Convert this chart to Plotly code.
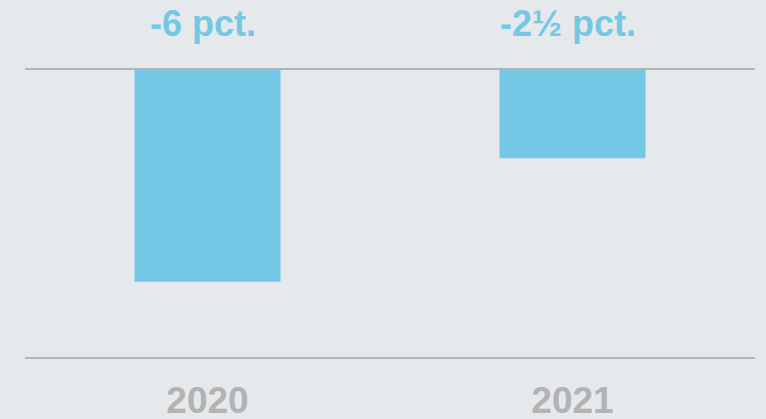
import plotly.graph_objects as go

YEARS = ["2020", "2021"]
CHANGE_PCT = [-6, -2.5]
LABELS = ["-6 pct.", "-2½ pct."]

BLUE = "#74c8e6"
GREY_TEXT = "#b3b3b3"
GREY_LINE = "#b4b4b4"
BG = "#e6e9ec"
FONT = "Liberation Sans, Arial, sans-serif"

fig = go.Figure()
fig.add_trace(
    go.Bar(
        x=YEARS, y=CHANGE_PCT, width=0.4,
        marker=dict(color=BLUE, line=dict(width=0)),
        hoverinfo="skip", showlegend=False,
    )
)

# value labels above the zero line (x given as category index, since
# "2020"-like strings get read as numbers on a category axis)
for i, label in enumerate(LABELS):
    fig.add_annotation(
        x=i, y=0, yref="y", text=f"<b>{label}</b>",
        showarrow=False, yanchor="bottom", yshift=24, xshift=-5,
        font=dict(family=FONT, size=36, color=BLUE),
    )

fig.update_layout(
    width=766, height=419,
    paper_bgcolor=BG, plot_bgcolor=BG,
    margin=dict(l=25, r=11, t=70, b=62),
    xaxis=dict(
        type="category", range=[-0.5, 1.5], autorange=False, automargin=False,
        showline=True, mirror=True, linecolor=GREY_LINE, linewidth=2,
        showgrid=False, zeroline=False, ticks="", ticklabelstandoff=10,
        tickfont=dict(family=FONT, size=37, color=GREY_TEXT),
        tickprefix="<b>", ticksuffix="</b>",
    ),
    yaxis=dict(
        range=[-8.13, 0], visible=False, showgrid=False, zeroline=False,
    ),
)

fig.write_html(
    "out.html",
    post_script="document.body.style.margin='0';",
    config={"displayModeBar": False},
)
